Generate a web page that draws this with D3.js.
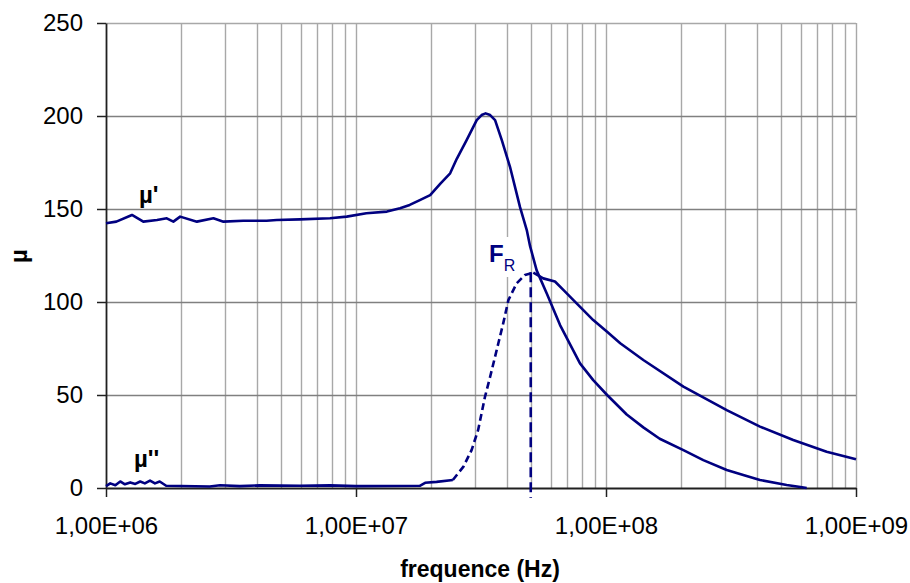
<!DOCTYPE html>
<html>
<head>
<meta charset="utf-8">
<script src="https://cdn.jsdelivr.net/npm/d3@7"></script>
<style>
  html, body { margin: 0; padding: 0; background: #ffffff; }
  svg { display: block; font-family: "Liberation Sans", Arial, sans-serif; }
</style>
</head>
<body>
<svg id="chart" width="910" height="583"></svg>
<script>
// ---- data ----
const muPrimeFreq = [1.00e6, 1.10e6, 1.27e6, 1.41e6, 1.60e6, 1.75e6, 1.86e6, 1.98e6, 2.31e6, 2.69e6,
  2.95e6, 3.54e6, 4.39e6, 4.82e6, 5.97e6, 7.87e6, 9.18e6, 1.10e7, 1.33e7, 1.50e7,
  1.64e7, 1.80e7, 1.98e7, 2.18e7, 2.38e7, 2.53e7, 2.77e7, 3.04e7, 3.18e7, 3.30e7,
  3.44e7, 3.60e7, 3.83e7, 4.13e7, 4.53e7, 4.82e7, 4.97e7, 5.28e7, 5.79e7, 6.55e7,
  7.87e7, 8.89e7, 1.01e8, 1.21e8, 1.41e8, 1.64e8, 2.04e8, 2.45e8, 3.04e8, 3.54e8,
  4.13e8, 5.28e8, 5.90e8, 6.35e8];
const muPrimeValue = [142.3, 143.2, 146.8, 143.2, 144.1, 145.0, 143.2, 145.9, 143.2, 145.0,
  143.2, 143.7, 143.7, 144.1, 144.4, 145.0, 145.9, 147.7, 148.6, 150.4,
  152.2, 154.8, 157.5, 163.8, 169.2, 177.0, 187.0, 197.8, 200.5, 201.4,
  200.5, 197.8, 187.0, 172.7, 151.0, 138.7, 130.0, 117.0, 104.7, 87.6,
  67.0, 58.0, 50.0, 39.5, 32.6, 26.5, 20.4, 15.0, 9.7, 7.0,
  4.3, 1.6, 0.7, 0.0];

const muSecondFreq = [1.00e6, 1.04e6, 1.09e6, 1.14e6, 1.19e6, 1.25e6, 1.31e6, 1.37e6, 1.43e6, 1.50e6,
  1.57e6, 1.64e6, 1.74e6, 2.60e6, 2.86e6, 3.43e6, 4.13e6, 5.97e6, 7.87e6, 1.00e7,
  1.80e7, 1.89e7, 2.10e7, 2.44e7, 2.69e7, 2.90e7, 3.08e7, 3.28e7, 3.44e7, 3.71e7,
  3.88e7, 4.07e7, 4.39e7, 4.74e7, 5.12e7, 5.61e7, 6.25e7, 6.75e7, 7.63e7, 8.89e7,
  1.01e8, 1.14e8, 1.41e8, 2.04e8, 3.04e8, 4.13e8, 5.61e8, 7.63e8, 1.00e9];
const muSecondValue = [1.0, 2.5, 1.5, 3.5, 2.0, 3.0, 2.2, 3.5, 2.5, 4.0,
  2.5, 3.5, 1.2, 0.8, 1.5, 1.0, 1.4, 1.2, 1.4, 1.0,
  1.2, 2.8, 3.3, 4.3, 11.5, 20.4, 31.2, 49.0, 59.8, 77.8,
  88.5, 101.0, 110.0, 114.5, 115.8, 112.7, 111.0, 106.5, 99.3, 90.3,
  84.0, 77.8, 68.8, 54.5, 41.9, 33.0, 25.8, 19.5, 15.4];
// portion of mu'' drawn dashed (rising edge up to the peak)
const muSecondDashedRange = [2.44e7, 5.12e7];

// resonance frequency marker
const resonanceFreq = 5.0e7;
const resonanceValue = 116;

const yTickValues = [0, 50, 100, 150, 200, 250];
const xTickValues = [1e6, 1e7, 1e8, 1e9];
const xTickLabels = ["1,00E+06", "1,00E+07", "1,00E+08", "1,00E+09"];

// ---- layout ----
const plotLeft = 106, plotRight = 856, plotTop = 23, plotBottom = 488;
const navy = "#000080";
const svg = d3.select("#chart");

const x = d3.scaleLog().domain([1e6, 1e9]).range([plotLeft, plotRight]);
const y = d3.scaleLinear().domain([0, 250]).range([plotBottom, plotTop]);

// vertical grid (log minor lines)
svg.append("g").selectAll("line")
  .data(x.ticks().filter(d => d > 1e6 * 1.0001))
  .join("line")
  .attr("x1", d => Math.round(x(d)) + 0.5).attr("x2", d => Math.round(x(d)) + 0.5)
  .attr("y1", plotTop).attr("y2", plotBottom)
  .attr("stroke", "#a8a8a8").attr("stroke-width", 1.4);

// horizontal grid
svg.append("g").selectAll("line")
  .data(yTickValues.filter(d => d > 0))
  .join("line")
  .attr("x1", plotLeft).attr("x2", plotRight)
  .attr("y1", d => Math.round(y(d)) + 0.5).attr("y2", d => Math.round(y(d)) + 0.5)
  .attr("stroke", d => d === 250 ? "#a8a8a8" : "#808080").attr("stroke-width", 1.6);

// axes
const yAxis = d3.axisLeft(y).tickValues(yTickValues).tickSize(9).tickSizeOuter(0).tickPadding(14)
  .tickFormat(d => d);
const gy = svg.append("g").attr("transform", `translate(${plotLeft},0)`).call(yAxis);
gy.select(".domain").attr("stroke", "#202020").attr("stroke-width", 1.8);
gy.selectAll(".tick line").attr("stroke", "#202020").attr("stroke-width", 1.5);
gy.selectAll(".tick text").attr("font-size", 24).attr("fill", "#000")
  .attr("font-family", "Liberation Sans, Arial, sans-serif");

const xAxis = d3.axisBottom(x).tickValues(xTickValues).tickSize(9).tickSizeOuter(0).tickPadding(20)
  .tickFormat((d, i) => xTickLabels[i]);
const gx = svg.append("g").attr("transform", `translate(0,${plotBottom})`).call(xAxis);
gx.select(".domain").attr("stroke", "#202020").attr("stroke-width", 1.8);
gx.selectAll(".tick line").attr("stroke", "#202020").attr("stroke-width", 1.5);
gx.selectAll(".tick text").attr("font-size", 24).attr("fill", "#000")
  .attr("font-family", "Liberation Sans, Arial, sans-serif");

// axis titles
svg.append("text").attr("x", 480).attr("y", 577).attr("text-anchor", "middle")
  .attr("font-size", 23).attr("font-weight", "bold").text("frequence (Hz)");
svg.append("text").attr("transform", "translate(27,256) rotate(-90)").attr("text-anchor", "middle")
  .attr("font-size", 24).attr("font-weight", "bold").text("µ");

// white box behind F_R label
svg.append("rect").attr("x", 486).attr("y", 237).attr("width", 26).attr("height", 40).attr("fill", "#fff");

// curves
const line = d3.line().x(d => x(d[0])).y(d => y(d[1]));
const muPrime = muPrimeFreq.map((f, i) => [f, muPrimeValue[i]]);
const muSecond = muSecondFreq.map((f, i) => [f, muSecondValue[i]]);

const curveStyle = sel => sel.attr("fill", "none").attr("stroke", navy).attr("stroke-width", 2.6)
  .attr("stroke-linejoin", "round");

svg.append("path").datum(muPrime).attr("d", line).call(curveStyle);
svg.append("path").datum(muSecond.filter(d => d[0] <= muSecondDashedRange[0])).attr("d", line).call(curveStyle);
svg.append("path").datum(muSecond.filter(d => d[0] >= muSecondDashedRange[0] && d[0] <= muSecondDashedRange[1]))
  .attr("d", line).call(curveStyle).attr("stroke-dasharray", "7,4");
svg.append("path").datum(muSecond.filter(d => d[0] >= muSecondDashedRange[1])).attr("d", line).call(curveStyle);

// resonance marker (dashed vertical)
svg.append("line")
  .attr("x1", x(resonanceFreq)).attr("x2", x(resonanceFreq))
  .attr("y1", y(resonanceValue)).attr("y2", plotBottom + 10)
  .attr("stroke", navy).attr("stroke-width", 2.6).attr("stroke-dasharray", "10,5");

// labels
svg.append("text").attr("x", 139).attr("y", 203).attr("font-size", 24).attr("font-weight", "bold")
  .attr("fill", "#000").text("µ'");
svg.append("text").attr("x", 134).attr("y", 467).attr("font-size", 24).attr("font-weight", "bold")
  .attr("fill", "#000").text("µ''");
const fr = svg.append("text").attr("x", 489).attr("y", 262).attr("fill", navy);
fr.append("tspan").attr("font-size", 24).attr("font-weight", "bold").text("F");
fr.append("tspan").attr("font-size", 16).attr("dy", 9).text("R");
</script>
</body>
</html>
